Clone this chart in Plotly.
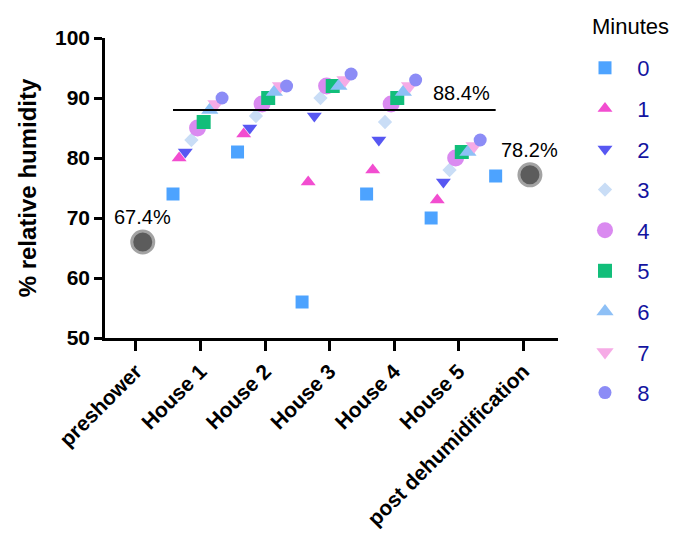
import plotly.graph_objects as go

categories = ["preshower", "House 1", "House 2", "House 3", "House 4", "House 5", "post dehumidification"]
minutes = ["0", "1", "2", "3", "4", "5", "6", "7", "8"]

# rows: category, columns: minute (None = no measurement)
rh_preshower = [None, None, None, None, None, None, None, None, None]
rh_house1 = [74, 80, 81, 83, 85, 86, 88, 89, 90]
rh_house2 = [81, 84, 85, 87, 89, 90, 91, 92, 92]
rh_house3 = [56, 76, 87, 90, 92, 92, 92, 93, 94]
rh_house4 = [74, 78, 83, 86, 89, 90, 91, 92, 93]
rh_house5 = [70, 73, 76, 78, 80, 81, 81, 82, 83]
rh_post = [77, None, None, None, None, None, None, None, None]

summary_values = [66, 77.2]          # grey circles: preshower, post dehumidification
summary_labels = ["67.4%", "78.2%"]
summary_cats = [0, 6]
mean_line_value = 88
mean_line_label = "88.4%"

table = [rh_preshower, rh_house1, rh_house2, rh_house3, rh_house4, rh_house5, rh_post]

symbols = ["square", "triangle-up", "triangle-down", "diamond", "circle",
           "square", "triangle-up", "triangle-down", "circle"]
colors = ["#4DA3FF", "#F24DD0", "#5757F2", "#C9DDF6", "#DA8AF0",
          "#12BE7A", "#8EC0F6", "#F6ABE6", "#8C8CF6"]
sizes = [13, 13, 13, 11, 17, 14, 15, 15, 13]

step = 0.095
shift = -0.046
FONT = "Liberation Sans, Arial"

fig = go.Figure()
for m in range(9):
    xs, ys = [], []
    for ci, row in enumerate(table):
        v = row[m]
        if v is not None:
            xs.append(ci + shift + (m - 4) * step)
            ys.append(v)
    fig.add_trace(go.Scatter(
        x=xs, y=ys, mode="markers", name="\u00a0\u00a0" + minutes[m], legendgroup=minutes[m],
        marker=dict(symbol=symbols[m], color=colors[m], size=sizes[m], line=dict(width=0)),
    ))

fig.add_trace(go.Scatter(
    x=[c + 0.105 for c in summary_cats], y=summary_values, mode="markers",
    showlegend=False,
    marker=dict(symbol="circle", color="#5C5C5C", size=22, line=dict(color="#A3A3A3", width=3)),
))

for c, v, lab in zip(summary_cats, summary_values, summary_labels):
    fig.add_annotation(x=c + 0.105, y=v, text=lab, showarrow=False, yshift=25,
                       font=dict(family=FONT, size=20, color="black"))

line_x0 = 1 + shift - 4 * step
line_x1 = 6 + shift - 4 * step
fig.add_shape(type="line", x0=line_x0, x1=line_x1, y0=mean_line_value, y1=mean_line_value,
              xref="x", yref="y", line=dict(color="black", width=1.8))
fig.add_annotation(x=line_x1, y=mean_line_value, text=mean_line_label, showarrow=False,
                   xanchor="right", yshift=17, xshift=-4,
                   font=dict(family=FONT, size=20, color="black"))

fig.add_annotation(x=1.159, y=1.037, xref="paper", yref="paper", text="Minutes",
                   xanchor="center", yanchor="middle",
                   showarrow=False, font=dict(family=FONT, size=22, color="black"))

fig.update_layout(
    width=677, height=544,
    margin=dict(l=97, r=127, t=30, b=214, autoexpand=False),
    plot_bgcolor="white", paper_bgcolor="white",
    font=dict(family=FONT, color="black"),
    xaxis=dict(
        range=[-0.48, 6.54], tickmode="array", tickvals=list(range(7)), ticktext=categories,
        tickangle=-45, showgrid=False, zeroline=False,
        showline=True, linecolor="black", linewidth=2.5,
        ticks="outside", ticklen=10, tickwidth=2.5, tickcolor="black",
        tickfont=dict(family=FONT, size=21, color="black", weight="bold"),
    ),
    yaxis=dict(
        range=[50, 100], tickvals=[50, 60, 70, 80, 90, 100], showgrid=False, zeroline=False,
        showline=True, linecolor="black", linewidth=2.5,
        ticks="outside", ticklen=8, tickwidth=2.5, tickcolor="black",
        tickfont=dict(family=FONT, size=21, color="black", weight="bold"),
        title=dict(text="% relative humidity", standoff=12,
                   font=dict(family=FONT, size=24, color="black", weight="bold")),
    ),
    legend=dict(
        xref="paper", yref="paper",
        x=1.0596, y=0.97, xanchor="left", yanchor="top",
        font=dict(family=FONT, size=22, color="#1414A0"),
        tracegroupgap=9, itemsizing="trace", maxheight=520,
    ),
)

fig.write_html("out.html")
